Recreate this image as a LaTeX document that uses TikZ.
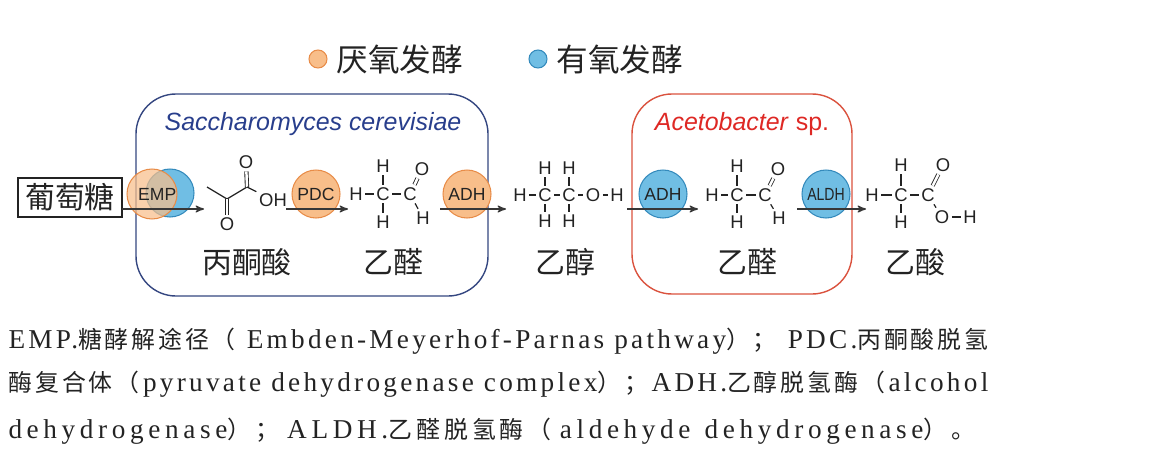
\documentclass[tikz,border=0pt]{standalone}
\usepackage{fontspec}
\setmainfont{Liberation Serif}
\setsansfont{Liberation Sans}
\newfontfamily\cjk{Noto Sans CJK SC}
\usetikzlibrary{arrows,positioning}
\definecolor{ink}{RGB}{35,35,35}
\definecolor{arrowgray}{RGB}{55,55,55}
\definecolor{anaer}{RGB}{248,190,138}
\definecolor{anaerline}{RGB}{232,140,72}
\definecolor{aer}{RGB}{112,190,228}
\definecolor{aerline}{RGB}{52,138,188}
\definecolor{yeastline}{RGB}{52,70,128}
\definecolor{yeasttext}{RGB}{40,62,140}
\definecolor{acetoline}{RGB}{218,82,62}
\definecolor{acetotext}{RGB}{222,40,36}
\newcommand{\zh}[2]{{\cjk\fontsize{13.6}{16}\selectfont\addfontfeatures{LetterSpace=#1}#2}}
\newcommand{\jgap}{\hspace{0pt plus 1fil}}

\begin{document}
\begin{tikzpicture}[->, >=stealth', x=0.02cm, y=-0.02cm, semithick]
\tikzstyle{atom}=[font=\sffamily\fontsize{10.5}{12}\selectfont, text=ink, inner sep=1.3pt]
\tikzstyle{bond}=[-, draw=ink, line width=0.7pt]
\tikzstyle{dbl}=[-, draw=ink, line width=0.5pt, double, double distance=1.4pt]
\tikzstyle{enzA}=[circle, fill=anaer, draw=anaerline, line width=0.6pt, minimum size=0.96cm, inner sep=0pt, text=ink, font=\sffamily\fontsize{10}{12}\selectfont]
\tikzstyle{enzO}=[circle, fill=aer, draw=aerline, line width=0.6pt, minimum size=0.96cm, inner sep=0pt, text=ink, font=\sffamily\fontsize{10}{12}\selectfont]
\tikzstyle{rxn}=[->, draw=arrowgray, line width=0.75pt]
\tikzstyle{molname}=[font=\cjk\fontsize{17}{20}\selectfont, text=ink]
\tikzstyle{legdot}=[circle, minimum size=0.36cm, inner sep=0pt, line width=0.6pt]
\tikzstyle{caption}=[anchor=base west, inner sep=0pt, text=ink, font=\fontsize{15.5}{18}\selectfont]
\useasboundingbox (0,0) rectangle (1166,470);

\node[legdot, fill=anaer, draw=anaerline] (legA) at (318,59) {};
\node[anchor=west, font=\cjk\fontsize{18}{20}\selectfont, text=ink] (legAtxt) at (330,59) {厌氧发酵};
\node[legdot, fill=aer, draw=aerline] (legO) at (538,59) {};
\node[anchor=west, font=\cjk\fontsize{18}{20}\selectfont, text=ink] (legOtxt) at (550,59) {有氧发酵};

\draw[-, draw=yeastline, line width=0.8pt, rounded corners=0.8cm] (136,94) rectangle (488,296);
\draw[-, draw=acetoline, line width=0.8pt, rounded corners=0.8cm] (632,94) rectangle (852,294);
\node[anchor=base, text=yeasttext, font=\sffamily\itshape\fontsize{14.2}{16}\selectfont] (yeast) at (313,130) {Saccharomyces cerevisiae};
\node[anchor=base, text=acetotext, font=\sffamily\fontsize{14.2}{16}\selectfont] (aceto) at (742,130) {\textit{Acetobacter} sp.};

\node[draw=ink, line width=0.8pt, minimum width=2.08cm, minimum height=0.78cm, inner sep=0pt, font=\cjk\fontsize{17}{20}\selectfont, text=ink] (glc) at (70,197.5) {葡萄糖};

\node[enzO] (empO) at (170,193) {};
\node[enzA, fill opacity=0.72, text opacity=1] (empA) at (152,194) {\hspace{6pt}EMP};
\node[enzA] (pdc) at (316,194) {PDC};
\node[enzA] (adhA) at (467,194) {ADH};
\node[enzO] (adhO) at (663,194) {ADH};
\node[enzO] (aldh) at (826,194) {\scalebox{0.8}[1]{ALDH}};

\coordinate (py0) at (207,187);
\coordinate (py1) at (227,199);
\coordinate (py2) at (247,187);
\node[atom] (pyO1) at (246,162) {O};
\node[atom] (pyO2) at (227,224) {O};
\node[atom] (pyOH) at (273,200) {OH};

\node[atom] (aH) at (356,194) {H};
\node[atom] (aC1) at (383,194) {C};
\node[atom] (aC2) at (410,194) {C};
\node[atom] (aHt) at (383,166) {H};
\node[atom] (aHb) at (383,222) {H};
\node[atom] (aO) at (422,169) {O};
\node[atom] (aHa) at (423,218) {H};

\node[atom] (eH) at (520,195) {H};
\node[atom] (eC1) at (545,195) {C};
\node[atom] (eC2) at (569,195) {C};
\node[atom] (eO) at (593,195) {O};
\node[atom] (eHo) at (617,195) {H};
\node[atom] (eH1t) at (545,168) {H};
\node[atom] (eH2t) at (569,168) {H};
\node[atom] (eH1b) at (545,221) {H};
\node[atom] (eH2b) at (569,221) {H};

\node[atom] (bH) at (712,195) {H};
\node[atom] (bC1) at (737,195) {C};
\node[atom] (bC2) at (765,195) {C};
\node[atom] (bHt) at (737,166) {H};
\node[atom] (bHb) at (737,222) {H};
\node[atom] (bO) at (778,169) {O};
\node[atom] (bHa) at (779,218) {H};

\node[atom] (cH) at (872,195) {H};
\node[atom] (cC1) at (901,195) {C};
\node[atom] (cC2) at (928,195) {C};
\node[atom] (cHt) at (901,165) {H};
\node[atom] (cHb) at (901,222) {H};
\node[atom] (cO) at (943,165) {O};
\node[atom] (cOs) at (942,217) {O};
\node[atom] (cHo) at (970,217) {H};

\node[molname] (pyrN) at (247,262) {丙酮酸};
\node[molname] (ald1N) at (393,262) {乙醛};
\node[molname] (ethN) at (565,262) {乙醇};
\node[molname] (ald2N) at (747,262) {乙醛};
\node[molname] (aceN) at (915,262) {乙酸};

\coordinate (r1s) at (122,209);
\coordinate (r1e) at (204,209);
\coordinate (r2s) at (286,209);
\coordinate (r2e) at (348,209);
\coordinate (r3s) at (440,209);
\coordinate (r3e) at (506,209);
\coordinate (r4s) at (627,209);
\coordinate (r4e) at (698,209);
\coordinate (r5s) at (797,209);
\coordinate (r5e) at (866,209);

\path
(py0) edge[bond] (py1)
(py1) edge[bond] (py2)
(py1) edge[dbl] (pyO2)
(py2) edge[dbl] (pyO1)
(py2) edge[bond] (pyOH)
(aH) edge[bond] (aC1)
(aC1) edge[bond] (aC2)
(aC1) edge[bond] (aHt)
(aC1) edge[bond] (aHb)
(aC2) edge[dbl] (aO)
(aC2) edge[bond] (aHa)
(eH) edge[bond] (eC1)
(eC1) edge[bond] (eC2)
(eC2) edge[bond] (eO)
(eO) edge[bond] (eHo)
(eC1) edge[bond] (eH1t)
(eC2) edge[bond] (eH2t)
(eC1) edge[bond] (eH1b)
(eC2) edge[bond] (eH2b)
(bH) edge[bond] (bC1)
(bC1) edge[bond] (bC2)
(bC1) edge[bond] (bHt)
(bC1) edge[bond] (bHb)
(bC2) edge[dbl] (bO)
(bC2) edge[bond] (bHa)
(cH) edge[bond] (cC1)
(cC1) edge[bond] (cC2)
(cC1) edge[bond] (cHt)
(cC1) edge[bond] (cHb)
(cC2) edge[dbl] (cO)
(cC2) edge[bond] (cOs)
(cOs) edge[bond] (cHo);

\path
(r1s) edge[rxn] (r1e)
(r2s) edge[rxn] (r2e)
(r3s) edge[rxn] (r3e)
(r4s) edge[rxn] (r4e)
(r5s) edge[rxn] (r5e);

\node[caption] (cap1) at (8,348) {\makebox[19.6cm][s]{\addfontfeatures{LetterSpace=12}EMP.\zh{12}{糖酵解途径（}\jgap Embden-Meyerhof-Parnas pathway\zh{12}{）；}\jgap PDC.\zh{12}{丙酮酸脱氢}}};
\node[caption] (cap2) at (8,391) {\makebox[19.6cm][s]{\addfontfeatures{LetterSpace=12}\zh{12}{酶复合体（}\jgap pyruvate dehydrogenase complex\zh{12}{）；}\jgap ADH.\zh{12}{乙醇脱氢酶（}\jgap alcohol}};
\node[caption] (cap3) at (8,438) {\makebox[19.34cm][s]{\addfontfeatures{LetterSpace=17}dehydrogenase\zh{17}{）；}\jgap ALDH.\zh{17}{乙醛脱氢酶（}\jgap aldehyde\hspace{8pt}dehydrogenase\zh{17}{）。}}};
\end{tikzpicture}
\end{document}
